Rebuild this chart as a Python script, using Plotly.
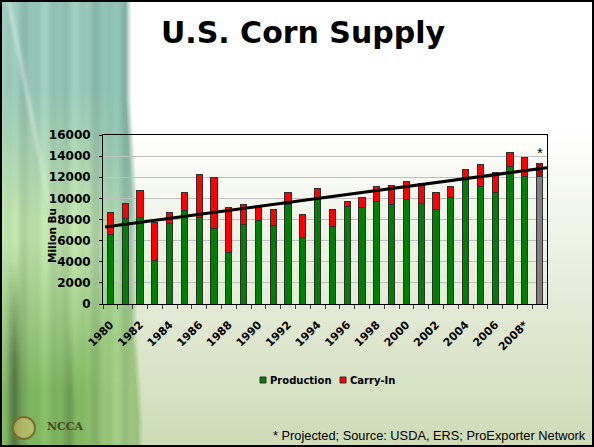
import base64
import struct
import zlib

import numpy as np
import plotly.graph_objects as go

# ---------------- data ----------------
tick_labels = ["1980", "1982", "1984", "1986", "1988", "1990", "1992", "1994",
               "1996", "1998", "2000", "2002", "2004", "2006", "2008*"]
# one value per marketing year 1980 .. 2009 (last bar = projection)
production = [6600, 8110, 8200, 4130, 7640, 8870, 8200, 7130, 4890, 7540,
              7920, 7450, 9440, 6310, 10000, 7350, 9250, 9180, 9750, 9440,
              9910, 9500, 8960, 10100, 11800, 11080, 10510, 13030, 12090, 12090]
carry_in = [2080, 1420, 2560, 3540, 1040, 1670, 4080, 4860, 4260, 1860,
            1290, 1540, 1130, 2150, 890, 1610, 440, 920, 1330, 1790,
            1700, 1920, 1640, 1070, 950, 2170, 1950, 1330, 1790, 1190]
trend_values = [7290, 12910]          # trend line at left / right ends
projection_mark_value = 14350         # level of the "*" above the projection
legend_names = ["Production", "Carry-In"]

# ---------------- styles ----------------
GREEN, RED, GRAY, DARKRED = "#008000", "#ff0000", "#808080", "#c00000"
n = len(production)
idx = list(range(n))
prod_colors = [GREEN] * (n - 1) + [GRAY]
carry_colors = [RED] * (n - 1) + [DARKRED]
tick_pos = idx[::2][:len(tick_labels)]

W, H = 594, 447
ML, MR, MT, MB = 103, 47, 135, 143
PW, PH = W - ML - MR, H - MT - MB


def px_x(px):
    return (px - ML) / PW


def px_y(py):
    return (H - MB - py) / PH


# ---------------- slide background (decoration) ----------------
def background_uri():
    yy, xx = np.mgrid[0:H, 0:W].astype(float)
    white = np.array([255, 255, 255], float)
    mid = np.array([229, 235, 216], float)
    bot = np.array([206, 219, 182], float)
    t1 = np.clip((yy - 130) / 170, 0, 1)[..., None]
    t2 = np.clip((yy - 300) / 147, 0, 1)[..., None]
    base = white * (1 - t1) + mid * t1
    base = base * (1 - t2) + bot * t2

    top_c = np.array([150, 197, 183], float)
    mid_c = np.array([186, 221, 168], float)
    bot_c = np.array([128, 182, 98], float)
    a = np.clip((yy - 90) / 130, 0, 1)[..., None]
    b = np.clip((yy - 240) / 150, 0, 1)[..., None]
    leaf = top_c * (1 - a) + mid_c * a
    leaf = leaf * (1 - b) + bot_c * b
    rt = (np.clip((xx - 85) / 40, 0, 1) * np.clip((330 - yy) / 200, 0, 1))[..., None]
    leaf = leaf * (1 - rt) + np.array([136, 186, 170], float) * rt
    rb = (np.clip((xx - 80) / 40, 0, 1) * np.clip((yy - 300) / 80, 0, 1) * 0.6)[..., None]
    leaf = leaf * (1 - rb) + np.array([180, 210, 150], float) * rb
    stripes = 1 + 0.04 * np.sin(xx / 5.5) + 0.025 * np.sin(xx / 2.3 + 1.0)
    leaf = leaf * stripes[..., None]
    dk = (np.exp(-((xx - 14) / 6) ** 2) * np.clip((yy - 260) / 100, 0, 1) * 0.35
          + np.exp(-((xx - 70) / 5) ** 2) * np.clip((yy - 320) / 80, 0, 1) * 0.15)
    leaf = leaf * (1 - dk[..., None])
    xc = 8 + 0.2 * yy
    hl = np.exp(-((xx - xc) / 3.0) ** 2) * np.clip((260 - yy) / 140, 0, 1) * 0.3
    leaf = leaf * (1 - hl[..., None]) + 255 * hl[..., None]

    edge = 128 + 6 * np.clip((yy - 100) / 100, 0, 1) + 6 * np.clip((yy - 330) / 90, 0, 1)
    m = np.clip((edge - xx) / 6 + 0.5, 0, 1)[..., None]
    img = base * (1 - m) + leaf * m
    img = np.clip(img, 0, 255).astype(np.uint8)
    img[:2, :] = 0
    img[-2:, :] = 0
    img[:, :2] = 0
    img[:, -2:] = 0

    filt = img.astype(np.int16)
    diff = np.empty_like(filt)
    diff[0] = filt[0]
    diff[1:] = (filt[1:] - filt[:-1]) % 256
    diff = diff.astype(np.uint8)
    raw = b"".join((b"\x02" if i else b"\x00") + diff[i].tobytes() for i in range(H))

    def chunk(tag, data):
        return (struct.pack(">I", len(data)) + tag + data
                + struct.pack(">I", zlib.crc32(tag + data) & 0xFFFFFFFF))

    png = (b"\x89PNG\r\n\x1a\n"
           + chunk(b"IHDR", struct.pack(">IIBBBBB", W, H, 8, 2, 0, 0, 0))
           + chunk(b"IDAT", zlib.compress(raw, 9))
           + chunk(b"IEND", b""))
    return "data:image/png;base64," + base64.b64encode(png).decode()


# ---------------- figure ----------------
BOLD = dict(family="DejaVu Sans", weight="bold", color="black")
fig = go.Figure()
fig.add_bar(x=idx, y=production, width=0.42, name=legend_names[0], showlegend=False,
            marker=dict(color=prod_colors, line=dict(color="#303030", width=1)))
fig.add_bar(x=idx, y=carry_in, width=0.42, name=legend_names[1], showlegend=False,
            marker=dict(color=carry_colors, line=dict(color="#303030", width=1)))
fig.add_scatter(x=[-0.35, n - 0.5], y=trend_values, mode="lines", showlegend=False,
                line=dict(color="black", width=3), hoverinfo="skip")

# compact legend like the original (square + label)
legend_shapes, legend_notes = [], []
for (name, col), sx in zip(zip(legend_names, (GREEN, RED)), (260, 340)):
    legend_shapes.append(dict(type="rect", xref="paper", yref="paper",
                              x0=px_x(sx), x1=px_x(sx + 6), y0=px_y(383), y1=px_y(377),
                              fillcolor=col, line=dict(color="#303030", width=1)))
    legend_notes.append(dict(text=name, x=px_x(sx + 8), y=px_y(380), xref="paper",
                             yref="paper", xanchor="left", yanchor="middle",
                             showarrow=False, font=dict(BOLD, size=10)))

fig.update_layout(
    width=W, height=H,
    margin=dict(l=ML, r=MR, t=MT, b=MB, pad=0),
    paper_bgcolor="white", plot_bgcolor="rgba(0,0,0,0)",
    barmode="stack", showlegend=False,
    title=dict(text="U.S. Corn Supply", x=303 / W, xanchor="center", xref="container",
               y=1 - 32 / H, yanchor="middle", yref="container",
               font=dict(family="DejaVu Sans", weight="bold", size=30, color="black")),
    images=[dict(source=background_uri(), xref="paper", yref="paper",
                 x=-ML / PW, y=1 + MT / PH, sizex=W / PW, sizey=H / PH,
                 xanchor="left", yanchor="top", sizing="stretch", layer="below")],
    xaxis=dict(range=[-0.5, n - 0.5], tickmode="array", tickvals=tick_pos, ticktext=tick_labels,
               tickangle=-45, ticks="", showline=True, linecolor="black", linewidth=1,
               mirror=True, showgrid=False, zeroline=False,
               tickfont=dict(family="DejaVu Sans", weight="bold", color="black", size=11),
               ticklabelstandoff=9, automargin=False,
               minor=dict(ticks="outside", tickmode="array",
                          tickvals=[i - 0.5 for i in range(n + 1)],
                          ticklen=4, tickcolor="#404040", showgrid=False)),
    yaxis=dict(range=[0, 16000], tickmode="linear", tick0=0, dtick=2000, tickformat="d",
               showgrid=True, gridcolor="#c0c0c0", gridwidth=1, zeroline=False,
               showline=True, linecolor="black", linewidth=1, mirror=True,
               ticks="outside", ticklen=3, tickcolor="black", automargin=False,
               tickfont=dict(BOLD, size=12), ticklabelstandoff=6),
    annotations=[
        dict(text="*", x=n - 1, y=projection_mark_value, xref="x", yref="y",
             showarrow=False, font=dict(family="Liberation Sans", size=15, color="black"),
             xanchor="center", yanchor="middle"),
        dict(text="Millon Bu", x=px_x(52), y=px_y(236), xref="paper", yref="paper",
             xanchor="center", yanchor="middle",
             textangle=-90, showarrow=False, font=dict(BOLD, size=10.5)),
        dict(text="* Projected; Source: USDA, ERS; ProExporter Network",
             x=px_x(588), y=px_y(435), xref="paper", yref="paper", xanchor="right",
             yanchor="middle", showarrow=False,
             font=dict(family="Liberation Sans", size=12.8, color="black")),
        dict(text="NCCA", x=px_x(65), y=px_y(426), xref="paper", yref="paper",
             xanchor="center", yanchor="middle",
             showarrow=False, font=dict(family="DejaVu Serif", weight="bold", size=11,
                                        color="#4a4a1c")),
    ] + legend_notes,
    shapes=[dict(type="circle", xref="paper", yref="paper",
                 x0=px_x(13), x1=px_x(35), y0=px_y(439), y1=px_y(417),
                 line=dict(color="#7a6e30", width=2), fillcolor="rgba(215,195,110,0.6)")]
           + legend_shapes,
)

fig.write_html("out.html", config={"displayModeBar": False},
               post_script="document.body.style.margin='0px';")
